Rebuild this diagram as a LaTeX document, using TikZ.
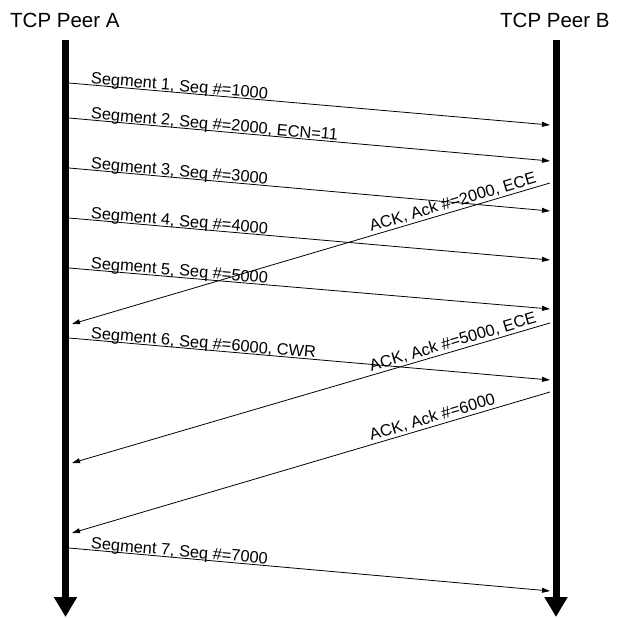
\documentclass[tikz,border=0pt]{standalone}
\usepackage{fontspec}
\setmainfont{Liberation Sans}
\usetikzlibrary{positioning,arrows.meta}

\begin{document}
\begin{tikzpicture}[x=1pt,y=-1pt,
  peer/.style={font=\fontsize{20.5}{24}\selectfont,inner sep=0,anchor=base west},
  life/.style={line width=7pt,-{Triangle[width=22pt,length=20pt]}},
  msg/.style={line width=0.8pt,-{Triangle[width=5pt,length=8pt]}},
  seg/.style={font=\fontsize{16.4}{19}\selectfont,sloped,inner sep=0,pos=0.044,anchor=base west,yshift=1.5pt},
  ack/.style={font=\fontsize{16.4}{19}\selectfont,sloped,inner sep=0,pos=0.372,anchor=base west,yshift=4pt}]
\useasboundingbox (0,0) rectangle (622,618);
\node[peer] (pa) at (10,28) {TCP Peer A};
\node[peer] (pb) at (500,28) {TCP Peer B};
% lifelines
\coordinate (atop) at (65.5,40); \coordinate (abot) at (65.5,617);
\coordinate (btop) at (556,40); \coordinate (bbot) at (556,617);
\draw[life] (atop) -- (abot);
\draw[life] (btop) -- (bbot);
% segments A -> B
\coordinate (s1a) at (69,83);  \coordinate (s1b) at (550,125);
\coordinate (s2a) at (69,118); \coordinate (s2b) at (550,161);
\coordinate (s3a) at (69,168); \coordinate (s3b) at (550,211);
\coordinate (s4a) at (69,218); \coordinate (s4b) at (550,260);
\coordinate (s5a) at (69,268); \coordinate (s5b) at (550,309);
\coordinate (s6a) at (69,338); \coordinate (s6b) at (550,380);
\coordinate (s7a) at (69,548); \coordinate (s7b) at (550,591);
\draw[msg] (s1a) -- node[seg]{Segment 1, Seq \#=1000} (s1b);
\draw[msg] (s2a) -- node[seg]{Segment 2, Seq \#=2000, ECN=11} (s2b);
\draw[msg] (s3a) -- node[seg]{Segment 3, Seq \#=3000} (s3b);
\draw[msg] (s4a) -- node[seg]{Segment 4, Seq \#=4000} (s4b);
\draw[msg] (s5a) -- node[seg]{Segment 5, Seq \#=5000} (s5b);
\draw[msg] (s6a) -- node[seg]{Segment 6, Seq \#=6000, CWR} (s6b);
\draw[msg] (s7a) -- node[seg]{Segment 7, Seq \#=7000} (s7b);
% acks B -> A
\coordinate (k1b) at (550,183); \coordinate (k1a) at (72,324);
\coordinate (k2b) at (550,323); \coordinate (k2a) at (72,463);
\coordinate (k3b) at (550,392); \coordinate (k3a) at (72,533);
\draw[msg] (k1b) -- node[ack]{ACK, Ack \#=2000, ECE} (k1a);
\draw[msg] (k2b) -- node[ack]{ACK, Ack \#=5000, ECE} (k2a);
\draw[msg] (k3b) -- node[ack]{ACK, Ack \#=6000} (k3a);
\end{tikzpicture}
\end{document}
